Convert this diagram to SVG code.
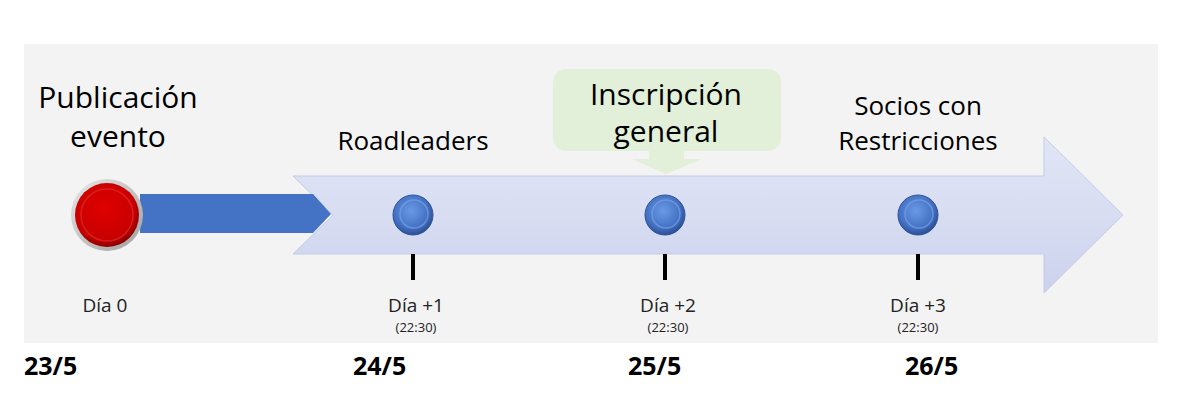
<svg xmlns="http://www.w3.org/2000/svg" width="1179" height="412" viewBox="0 0 1179 412">
<style>
.t{font-family:"Open Sans","Liberation Sans",sans-serif;fill:#000;text-anchor:middle}
.big{font-size:30px}
.mid{font-size:26px}
.day{font-size:19px;fill:#222}
.tm{font-size:13px;fill:#222}
.date{font-size:25px;font-weight:bold;text-anchor:start}
.tick{stroke:#000;stroke-width:4}
</style>
<defs>
<linearGradient id="arr" x1="0" y1="0" x2="0" y2="1">
<stop offset="0" stop-color="#e0e5f6"/>
<stop offset="0.5" stop-color="#d8ddf2"/>
<stop offset="1" stop-color="#cbd2ec"/>
</linearGradient>
<radialGradient id="dot" cx="0.45" cy="0.4" r="0.6">
<stop offset="0" stop-color="#6a9ae6"/>
<stop offset="0.7" stop-color="#4472c4"/>
<stop offset="1" stop-color="#2c4f96"/>
</radialGradient>
<radialGradient id="red" cx="0.45" cy="0.4" r="0.6">
<stop offset="0" stop-color="#e00000"/>
<stop offset="0.8" stop-color="#c80000"/>
<stop offset="1" stop-color="#8a0000"/>
</radialGradient>
<linearGradient id="ring" x1="0" y1="0" x2="1" y2="1">
<stop offset="0" stop-color="#e8e8e8"/>
<stop offset="1" stop-color="#a0a0a0"/>
</linearGradient>
<g id="bluedot">
<circle r="20" fill="url(#dot)" stroke="#2f5597" stroke-width="1"/>
<circle cx="1" cy="-1" r="14" fill="none" stroke="#7ea6ea" stroke-width="1.5" opacity="0.6"/>
</g>
</defs>
<rect x="0" y="0" width="1179" height="412" fill="#fff"/>
<rect x="24" y="44" width="1134" height="299" fill="#f3f3f3"/>

<g id="timeline-arrow">
<polygon points="293,176 1044,176 1044,137 1123,215 1044,293 1044,254 293,254 333,215" fill="url(#arr)" stroke="#c5cce6" stroke-width="1"/>
</g>

<g id="connectors">
<polygon points="140,194 313,194 331,214 313,233 140,233" fill="#4472c4"/>
</g>

<g id="callout-inscripcion">
<rect x="553" y="69" width="228" height="82" rx="13" fill="#e2efd9"/>
<polygon points="649,151 684,151 684,159 702,159 666,174 632,159 649,159" fill="#e2efd9"/>
<text class="t big" x="666" y="105">Inscripción</text>
<text class="t big" x="666" y="142">general</text>
</g>

<g id="node-publicacion">
<text class="t big" x="118" y="108">Publicación</text>
<text class="t big" x="118" y="147">evento</text>
<circle cx="107" cy="215" r="36" fill="url(#ring)"/>
<circle cx="107" cy="215" r="32" fill="url(#red)"/>
<circle cx="107" cy="215" r="26" fill="none" stroke="#e83030" stroke-width="1.5" opacity="0.6"/>
<text class="t day" x="105" y="312">Día 0</text>
</g>

<g id="node-roadleaders">
<text class="t mid" x="413" y="150">Roadleaders</text>
<use href="#bluedot" x="413" y="215"/>
<line class="tick" x1="413" y1="254" x2="413" y2="280"/>
<text class="t day" x="416" y="312">Día +1</text>
<text class="t tm" x="416" y="332">(22:30)</text>
</g>

<g id="node-general">
<use href="#bluedot" x="665" y="215"/>
<line class="tick" x1="665" y1="254" x2="665" y2="280"/>
<text class="t day" x="668" y="312">Día +2</text>
<text class="t tm" x="668" y="332">(22:30)</text>
</g>

<g id="node-socios">
<text class="t mid" x="918" y="115">Socios con</text>
<text class="t mid" x="918" y="150">Restricciones</text>
<use href="#bluedot" x="918" y="215"/>
<line class="tick" x1="918" y1="254" x2="918" y2="280"/>
<text class="t day" x="918" y="312">Día +3</text>
<text class="t tm" x="918" y="332">(22:30)</text>
</g>

<g id="dates">
<text class="t date" x="24" y="375">23/5</text>
<text class="t date" x="353" y="375">24/5</text>
<text class="t date" x="628" y="375">25/5</text>
<text class="t date" x="905" y="375">26/5</text>
</g>
</svg>
